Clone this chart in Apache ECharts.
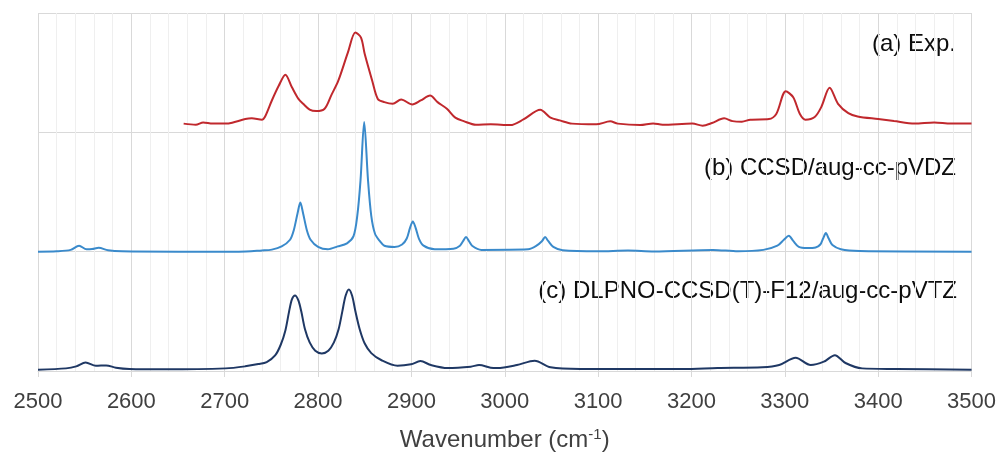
<!DOCTYPE html>
<html>
<head>
<meta charset="utf-8">
<script src="https://cdn.jsdelivr.net/npm/echarts@6/dist/echarts.min.js"></script>
<style>
html,body{margin:0;padding:0;background:#fff;}
#chart{width:999px;height:457px;}
</style>
</head>
<body>
<div id="chart"></div>
<script>
// Tick labels of the wavenumber axis
var xTicks = [2500, 2600, 2700, 2800, 2900, 3000, 3100, 3200, 3300, 3400, 3500];

// Series labels
var seriesNames = ['(a) Exp.', '(b) CCSD/aug-cc-pVDZ', '(c) DLPNO-CCSD(T)-F12/aug-cc-pVTZ'];

// (a) Experimental spectrum (offset by +2)
var expX = [2656,2669,2677,2687,2701,2708,2722,2729,2740,2743,2750.5,2758,2765,2772,2779,2784,2791,2798,2807,2814,2821.7,2832,2840,2846,2850,2858,2864,2871,2880,2889,2901,2910,2920,2928,2938,2947,2956,2969,2985,3006,3020,3038,3049,3059,3072,3098,3113,3121,3145,3159,3169,3201,3212,3222,3235,3244,3254,3263,3283,3291,3301,3309,3316,3322,3332,3339,3348,3357,3368,3378,3400,3417,3439,3460,3478,3500];
var expY = [2.073,2.064,2.083,2.073,2.073,2.081,2.111,2.117,2.106,2.128,2.267,2.392,2.483,2.378,2.280,2.239,2.190,2.178,2.198,2.308,2.433,2.670,2.836,2.794,2.656,2.433,2.280,2.253,2.239,2.275,2.233,2.267,2.308,2.253,2.198,2.123,2.094,2.064,2.067,2.061,2.108,2.189,2.123,2.100,2.073,2.067,2.092,2.073,2.061,2.075,2.063,2.073,2.056,2.078,2.117,2.094,2.089,2.106,2.111,2.156,2.344,2.294,2.156,2.106,2.128,2.211,2.373,2.239,2.161,2.133,2.111,2.094,2.073,2.083,2.073,2.073];

// (b) CCSD/aug-cc-pVDZ (offset by +1)
var ccsdX = [2500,2520,2535,2544,2552,2558,2565,2575,2590,2650,2715,2740,2750.5,2761,2770,2774,2778,2781,2784,2788,2792,2800,2810.5,2821,2831,2838,2842,2845.5,2849.4,2853.5,2857,2861,2866,2871,2882,2890,2895,2898.5,2901.5,2904.5,2908,2913,2925,2945,2952,2955.5,2958.5,2961.5,2965,2975,3025,3034,3040,3043.2,3046.5,3052,3062,3100,3132,3160,3223,3250,3277,3292,3299,3304.3,3309,3315,3324,3333,3338,3341,3344,3347,3351,3360,3380,3500];
var ccsdY = [1.000,1.003,1.015,1.050,1.020,1.022,1.032,1.012,1.003,1.000,1.000,1.010,1.017,1.044,1.100,1.180,1.320,1.411,1.320,1.180,1.100,1.040,1.020,1.044,1.070,1.130,1.300,1.600,2.086,1.600,1.300,1.150,1.090,1.050,1.040,1.060,1.110,1.200,1.253,1.200,1.110,1.050,1.020,1.025,1.050,1.090,1.122,1.090,1.050,1.015,1.020,1.050,1.090,1.122,1.090,1.040,1.012,1.003,1.010,1.002,1.015,1.003,1.015,1.050,1.100,1.133,1.090,1.040,1.030,1.035,1.060,1.110,1.156,1.110,1.055,1.020,1.005,1.000];

// (c) DLPNO-CCSD(T)-F12/aug-cc-pVTZ (no offset)
var dlpnoX = [2500,2530,2541,2551,2562,2573,2583.5,2598,2637,2701,2722,2736,2745,2754,2760,2765,2769,2772,2775.3,2779,2782,2786,2791,2797,2804,2811,2817,2822,2826,2829.5,2833,2836.5,2840,2844.6,2850,2857,2868,2885,2899.6,2909.6,2921,2938.7,2963.5,2972.5,2984.9,2992,3013,3032,3049,3081,3134,3191,3228,3276,3294,3311.6,3327.7,3341.8,3353.6,3365,3382.8,3419,3500];
var dlpnoY = [0.011,0.022,0.039,0.072,0.044,0.047,0.028,0.017,0.014,0.022,0.039,0.058,0.075,0.130,0.220,0.340,0.500,0.600,0.633,0.590,0.500,0.350,0.240,0.170,0.147,0.170,0.240,0.350,0.500,0.630,0.683,0.630,0.500,0.350,0.230,0.150,0.090,0.044,0.056,0.083,0.050,0.025,0.036,0.050,0.028,0.025,0.050,0.086,0.031,0.017,0.017,0.017,0.025,0.031,0.050,0.111,0.050,0.078,0.133,0.067,0.022,0.017,0.011];

function pairs(xs, ys) { return xs.map(function (x, i) { return [x, ys[i]]; }); }

var chart = echarts.init(document.getElementById('chart'), null, {renderer: 'canvas'});
var FONT = 'Liberation Sans, Arial, sans-serif';
chart.setOption({
  animation: false,
  backgroundColor: '#ffffff',
  grid: {left: 38, right: 22, top: 13, bottom: 85, containLabel: false},
  xAxis: {
    type: 'value',
    min: xTicks[0],
    max: xTicks[xTicks.length - 1],
    interval: xTicks[1] - xTicks[0],
    axisLine: {show: true, lineStyle: {color: '#D9D9D9', width: 1}},
    axisTick: {show: true, length: 6, lineStyle: {color: '#D9D9D9'}},
    axisLabel: {fontSize: 22, color: '#404040', fontFamily: FONT, margin: 20,
      formatter: function (v) { return String(v); }},
    splitLine: {show: true, lineStyle: {color: '#D9D9D9', width: 1}},
    minorTick: {show: false, splitNumber: 5},
    minorSplitLine: {show: true, lineStyle: {color: '#EFEFEF', width: 1}},
    name: '{t|Wavenumber (cm}{s|-1}{t|)}',
    nameLocation: 'middle',
    nameGap: 56,
    nameTextStyle: {
      rich: {
        t: {fontSize: 24, color: '#404040', fontFamily: FONT, lineHeight: 26},
        s: {fontSize: 15, color: '#404040', fontFamily: FONT, verticalAlign: 'top', lineHeight: 15}
      }
    }
  },
  yAxis: {
    type: 'value',
    min: 0, max: 3, interval: 1,
    axisLine: {show: false},
    axisTick: {show: false},
    axisLabel: {show: false},
    splitLine: {show: true, lineStyle: {color: '#D9D9D9', width: 1}}
  },
  graphic: [
    {type: 'text', right: 43, top: 32, style: {text: seriesNames[0], font: '24px ' + FONT, fill: '#0d0d0d'}},
    {type: 'text', right: 43, top: 156, style: {text: seriesNames[1], font: '24px ' + FONT, fill: '#0d0d0d'}},
    {type: 'text', right: 42, top: 279, style: {text: seriesNames[2], font: '24px ' + FONT, fill: '#0d0d0d'}}
  ],
  series: [
    {name: seriesNames[2], type: 'line', data: pairs(dlpnoX, dlpnoY), showSymbol: false, smooth: 0.3,
     lineStyle: {color: '#1F3864', width: 2}, z: 3},
    {name: seriesNames[1], type: 'line', data: pairs(ccsdX, ccsdY), showSymbol: false, smooth: 0.3,
     lineStyle: {color: '#3A8ACB', width: 2}, z: 4},
    {name: seriesNames[0], type: 'line', data: pairs(expX, expY), showSymbol: false, smooth: 0.3,
     lineStyle: {color: '#C0282D', width: 2}, z: 5}
  ]
});
</script>
</body>
</html>
